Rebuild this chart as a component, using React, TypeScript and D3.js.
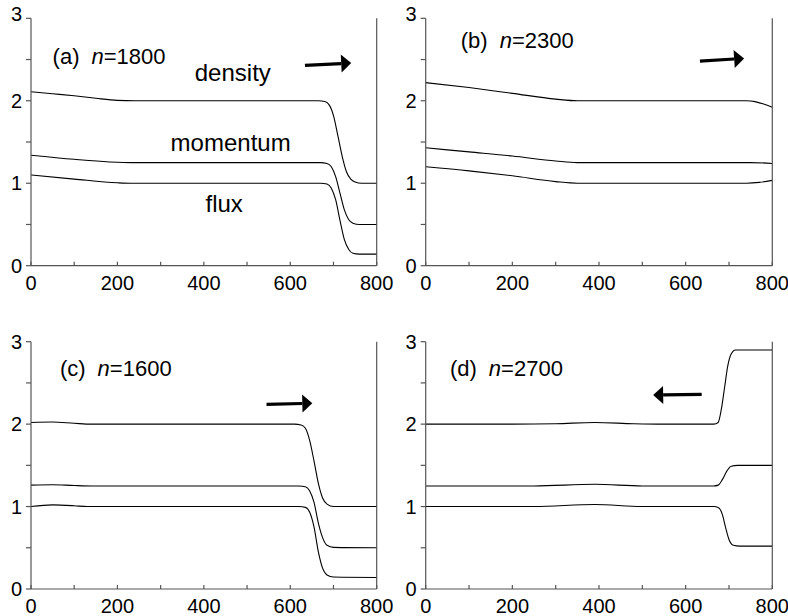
import * as d3 from 'd3'

// axis ticks
const X_TICKS = [0, 100, 200, 300, 400, 500, 600, 700, 800]
const X_LABELS = [0, 200, 400, 600, 800]
const Y_TICKS = [0, 0.5, 1, 1.5, 2, 2.5, 3]
const Y_LABELS = [0, 1, 2, 3]

// (a) n=1800
const A_DENSITY = [[0, 2.11], [50, 2.085], [100, 2.06], [150, 2.03], [200, 2.005], [240, 2.0], [665, 2.0], [680, 1.99], [690, 1.95], [700, 1.82], [710, 1.58], [720, 1.33], [730, 1.14], [740, 1.05], [750, 1.015], [765, 1.0], [800, 1.0]]
const A_MOMENTUM = [[0, 1.34], [100, 1.29], [200, 1.255], [240, 1.25], [670, 1.25], [685, 1.24], [695, 1.2], [705, 1.08], [715, 0.88], [725, 0.68], [735, 0.56], [745, 0.515], [760, 0.5], [800, 0.5]]
const A_FLUX = [[0, 1.1], [100, 1.05], [200, 1.005], [230, 1.0], [670, 1.0], [685, 0.99], [695, 0.94], [705, 0.8], [715, 0.55], [725, 0.32], [735, 0.2], [745, 0.15], [760, 0.14], [800, 0.14]]

// (b) n=2300
const B_DENSITY = [[0, 2.22], [100, 2.16], [200, 2.09], [300, 2.02], [350, 2.0], [740, 2.0], [760, 1.99], [780, 1.96], [800, 1.92]]
const B_MOMENTUM = [[0, 1.43], [100, 1.38], [200, 1.33], [300, 1.27], [350, 1.25], [750, 1.25], [800, 1.24]]
const B_FLUX = [[0, 1.2], [100, 1.15], [200, 1.09], [300, 1.02], [350, 1.0], [740, 1.0], [770, 1.01], [800, 1.035]]

// (c) n=1600
const C_DENSITY = [[0, 2.02], [50, 2.025], [100, 2.01], [140, 2.0], [610, 2.0], [625, 1.99], [635, 1.95], [645, 1.8], [655, 1.55], [665, 1.28], [675, 1.1], [685, 1.03], [700, 1.0], [800, 1.0]]
const C_MOMENTUM = [[0, 1.26], [50, 1.265], [100, 1.255], [140, 1.25], [620, 1.25], [635, 1.24], [645, 1.19], [655, 1.05], [665, 0.8], [675, 0.62], [685, 0.53], [700, 0.505], [800, 0.5]]
const C_FLUX = [[0, 1.0], [50, 1.02], [100, 1.01], [130, 1.0], [620, 1.0], [635, 0.99], [645, 0.93], [655, 0.75], [665, 0.45], [675, 0.25], [685, 0.17], [700, 0.145], [800, 0.14]]

// (d) n=2700
const D_DENSITY = [[0, 2.0], [200, 2.0], [300, 2.005], [390, 2.02], [480, 2.005], [550, 2.0], [665, 2.0], [675, 2.02], [683, 2.2], [690, 2.45], [697, 2.7], [705, 2.85], [715, 2.9], [800, 2.9]]
const D_MOMENTUM = [[0, 1.25], [250, 1.25], [390, 1.27], [500, 1.25], [665, 1.25], [675, 1.26], [685, 1.33], [695, 1.43], [705, 1.49], [720, 1.5], [800, 1.5]]
const D_FLUX = [[0, 1.0], [250, 1.0], [390, 1.025], [500, 1.0], [665, 1.0], [675, 0.99], [685, 0.9], [692, 0.75], [700, 0.6], [710, 0.53], [725, 0.52], [800, 0.52]]

const PANEL_TAGS = ['(a)', '(b)', '(c)', '(d)']
const PANEL_N = ['1800', '2300', '1600', '2700']
// label anchor (data coords)
const PANEL_LABEL_POS = [[50, 2.44], [81, 2.635], [67, 2.584], [56, 2.584]]
// arrows: [x0, y0, x1(tip), y1] in data coords
const ARROWS = [[634, 2.43, 741, 2.457], [633, 2.48, 735, 2.514], [545, 2.24, 651, 2.253], [637, 2.362, 525, 2.353]]
// curve names for panel (a)
const CURVE_NAMES = ['density', 'momentum', 'flux']
const CURVE_NAME_POS = [[467, 2.24], [462, 1.39], [447, 0.647]]

const SERIES = [
  [A_DENSITY, A_MOMENTUM, A_FLUX],
  [B_DENSITY, B_MOMENTUM, B_FLUX],
  [C_DENSITY, C_MOMENTUM, C_FLUX],
  [D_DENSITY, D_MOMENTUM, D_FLUX],
]

const FONT = 'Liberation Sans, Arial, sans-serif'
const AXIS = '#555'

function Panel({ idx, left, right, top, bottom }: any) {
  const x = d3.scaleLinear().domain([0, 800]).range([left, right])
  const y = d3.scaleLinear().domain([0, 3]).range([bottom, top])
  const line = d3.line<number[]>()
    .x(d => x(d[0]))
    .y(d => y(d[1]))
    .curve(d3.curveMonotoneX)

  const [ax0, ay0, ax1, ay1] = ARROWS[idx]
  const px0 = x(ax0), py0 = y(ay0), px1 = x(ax1), py1 = y(ay1)
  const ang = Math.atan2(py1 - py0, px1 - px0)
  const headLen = 10
  const headHalf = 9
  const bx = px1 - headLen * Math.cos(ang)
  const by = py1 - headLen * Math.sin(ang)
  const nx = -Math.sin(ang), ny = Math.cos(ang)
  const head = `M${px1},${py1}L${bx + nx * headHalf},${by + ny * headHalf}L${bx - nx * headHalf},${by - ny * headHalf}Z`

  const [lx, ly] = PANEL_LABEL_POS[idx]

  return (
    <g>
      {/* curves */}
      {SERIES[idx].map((s, i) => (
        <path key={i} d={line(s as number[][]) || ''} fill="none" stroke="#000" strokeWidth={1.1} />
      ))}

      {/* axes */}
      <line x1={left} x2={left} y1={top} y2={bottom} stroke={AXIS} strokeWidth={1.2} />
      <line x1={right} x2={right} y1={top} y2={bottom} stroke={AXIS} strokeWidth={1.2} />
      <line x1={left} x2={right} y1={bottom} y2={bottom} stroke={AXIS} strokeWidth={1.2} />
      {X_TICKS.map(t => (
        <line key={t} x1={x(t)} x2={x(t)} y1={bottom} y2={bottom - 4} stroke={AXIS} strokeWidth={1.2} />
      ))}
      {Y_TICKS.map(t => (
        <line key={t} x1={left - 5} x2={left} y1={y(t)} y2={y(t)} stroke={AXIS} strokeWidth={1.2} />
      ))}
      {X_LABELS.map(t => (
        <text key={t} x={x(t)} y={bottom + 24} textAnchor="middle" fontSize={20} fontFamily={FONT} fill="#000">
          {t}
        </text>
      ))}
      {Y_LABELS.map(t => (
        <text key={t} x={left - 9} y={y(t) + (t === 3 && top < 100 ? 3 : 7)} textAnchor="end" fontSize={20} fontFamily={FONT} fill="#000">
          {t}
        </text>
      ))}

      {/* panel label */}
      <text x={x(lx)} y={y(ly)} fontSize={22} fontFamily={FONT} fill="#000">
        {PANEL_TAGS[idx]}
        <tspan dx={12} fontStyle="italic">n</tspan>
        <tspan>={PANEL_N[idx]}</tspan>
      </text>

      {/* arrow */}
      <line x1={px0} y1={py0} x2={bx} y2={by} stroke="#000" strokeWidth={3.2} />
      <path d={head} fill="#000" />

      {idx === 0 && CURVE_NAMES.map((name, i) => (
        <text key={name} x={x(CURVE_NAME_POS[i][0])} y={y(CURVE_NAME_POS[i][1])} textAnchor="middle"
          fontSize={24} fontFamily={FONT} fill="#000">
          {name}
        </text>
      ))}
    </g>
  )
}

export default function App() {
  const cols = [[31, 376.7], [425.7, 772.3]]
  const rows = [[18.3, 265.7], [341.7, 589]]
  return (
    <div style={{ position: 'absolute', left: 0, top: 0 }}>
      <svg width={788} height={616} style={{ display: 'block', background: '#fff' }}>
        {[0, 1, 2, 3].map(i => {
          const [l, r] = cols[i % 2]
          const [t, b] = rows[Math.floor(i / 2)]
          return <Panel key={i} idx={i} left={l} right={r} top={t} bottom={b} />
        })}
      </svg>
    </div>
  )
}
